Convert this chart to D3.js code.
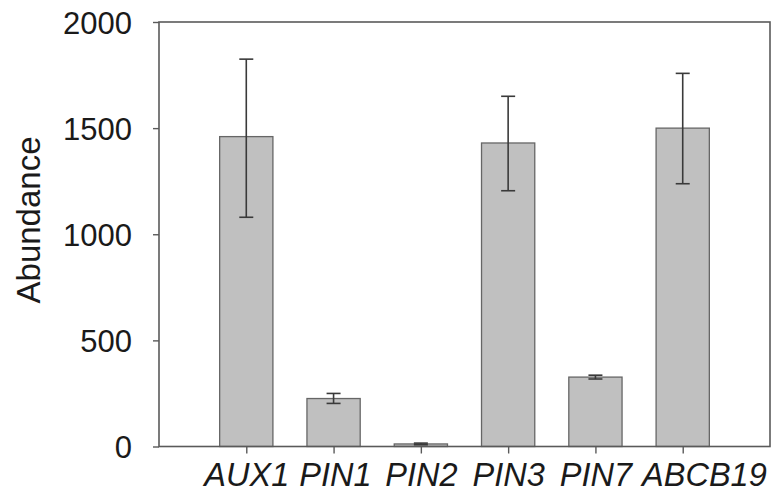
<!DOCTYPE html>
<html lang="en">
<head>
  <meta charset="utf-8">
  <title>abundance</title>
  <style>
  * { margin:0; padding:0; }
  body { background:#fff; }
  svg text { font-family: "Liberation Sans", Arial, sans-serif; fill:#1a1a1a; }
  </style>
  <script src="https://d3js.org/d3.v7.min.js"></script>
</head>
<body>
  <div id="chart"></div>
  <script type="text/javascript">
  // values
  var genes=["AUX1","PIN1","PIN2","PIN3","PIN7","ABCB19"];
  var abundance=[1460,226,12,1430,327,1500];
  var errLow=[1080,203,8,1205,318,1238];
  var errHigh=[1825,250,16,1650,336,1758];
  var yTicks=[0,500,1000,1500,2000];

  var w=773, h=493;
  var plotL=159, plotR=770, plotT=22, plotB=446.5;

  var svg=d3.select("#chart").append("svg")
    .attr("width",w)
    .attr("height",h);

  var x=d3.scalePoint().domain(genes).range([plotL,plotR]).padding(1);
  var y=d3.scaleLinear().domain([0,2000]).range([plotB,plotT]);
  var bw=x.step()*0.61;

  var data=genes.map(function(g,i){
    return {g:g,v:abundance[i],lo:errLow[i],hi:errHigh[i]};
  });

  // bars
  svg.selectAll(".bar")
    .data(data)
    .enter()
    .append("rect")
    .attr("class","bar")
    .attr("x",function(d){return x(d.g)-bw/2})
    .attr("y",function(d){return y(d.v)})
    .attr("width",bw)
    .attr("height",function(d){return plotB-y(d.v)})
    .style("fill","#c0c0c0")
    .style("stroke","#666")
    .style("stroke-width",1.3);

  // error bars
  var eb=svg.selectAll(".err")
    .data(data)
    .enter()
    .append("g")
    .attr("class","err")
    .style("stroke","#3a3a3a")
    .style("stroke-width",1.6);
  eb.append("line")
    .attr("x1",function(d){return x(d.g)})
    .attr("x2",function(d){return x(d.g)})
    .attr("y1",function(d){return y(d.lo)})
    .attr("y2",function(d){return y(d.hi)});
  eb.append("line")
    .attr("x1",function(d){return x(d.g)-7})
    .attr("x2",function(d){return x(d.g)+7})
    .attr("y1",function(d){return y(d.hi)})
    .attr("y2",function(d){return y(d.hi)});
  eb.append("line")
    .attr("x1",function(d){return x(d.g)-7})
    .attr("x2",function(d){return x(d.g)+7})
    .attr("y1",function(d){return y(d.lo)})
    .attr("y2",function(d){return y(d.lo)});

  // frame
  svg.append("rect")
    .attr("x",plotL)
    .attr("y",plotT)
    .attr("width",plotR-plotL)
    .attr("height",plotB-plotT)
    .style("fill","none")
    .style("stroke","#5a5a5a")
    .style("stroke-width",1.6);

  var yAxis=svg.append("g")
    .attr("transform","translate("+plotL+",0)")
    .call(d3.axisLeft(y).tickValues(yTicks).tickFormat(d3.format("d"))
      .tickSize(6).tickPadding(21).tickSizeOuter(0));
  yAxis.select(".domain").remove();
  yAxis.selectAll("line").style("stroke","#5a5a5a").style("stroke-width",1.4);
  yAxis.selectAll("text").style("font-size","31px").attr("dy","0.36em");

  var xAxis=svg.append("g")
    .attr("transform","translate(0,"+plotB+")")
    .call(d3.axisBottom(x).tickSize(7).tickPadding(9).tickSizeOuter(0));
  xAxis.select(".domain").remove();
  xAxis.selectAll("line").style("stroke","#5a5a5a").style("stroke-width",1.4);
  var labels=xAxis.selectAll("text").style("font-size","32.5px").style("font-style","italic");

  // push a label right when it would run into the previous one
  var prevEnd=-Infinity;
  labels.each(function(d){
    var len=this.getComputedTextLength();
    var start=x(d)-len/2;
    var shift=Math.max(0,prevEnd+10-start);
    d3.select(this).attr("dx",shift);
    prevEnd=start+shift+len;
  });

  svg.append("text")
    .attr("transform","translate(40,220) rotate(-90)")
    .attr("text-anchor","middle")
    .style("font-size","33px")
    .text("Abundance");
  </script>
</body>
</html>
